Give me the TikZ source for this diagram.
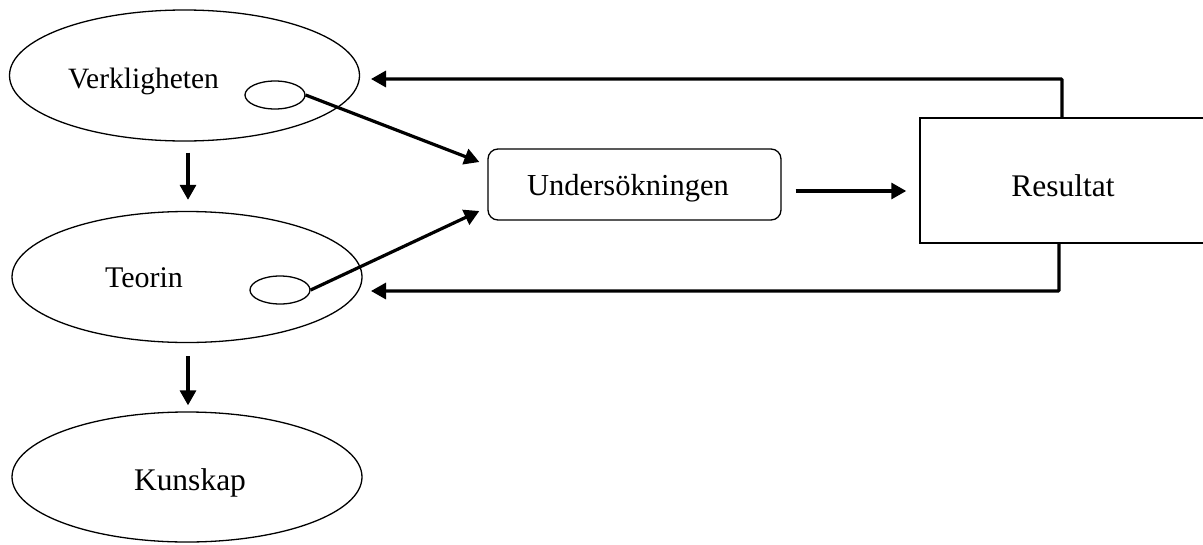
\documentclass[tikz,border=0pt]{standalone}
\usepackage{fontspec}
\setmainfont{Liberation Serif}
\usetikzlibrary{shapes.geometric,arrows.meta}
\begin{document}
\begin{tikzpicture}[x=1pt,y=-1pt,
  big/.style={draw,ellipse,line width=1.3pt,minimum width=350pt,minimum height=131pt,inner sep=0pt},
  small/.style={draw,ellipse,line width=1.3pt,minimum width=60pt,minimum height=28pt,inner sep=0pt},
  lbl/.style={inner sep=0pt,font=\fontsize{30}{36}\selectfont},
  lblb/.style={inner sep=0pt,font=\fontsize{31.5}{38}\selectfont},
  arr/.style={line width=3.2pt,-{Triangle[length=15pt 0,width=16pt 0]}}]
\useasboundingbox (0,0) rectangle (1203,544);
\node[big] (V) at (184.5,75.5) {};
\node[big] (T) at (187,277) {};
\node[big,minimum height=130pt] (K) at (187,477) {};
\node[lbl,font=\fontsize{29.5}{35}\selectfont] (Vt) at (143.5,81) {Verkligheten};
\node[lbl] (Tt) at (144,278) {Teorin};
\node[lblb] (Kt) at (190,483) {Kunskap};
\node[small] (sV) at (275,95) {};
\node[small] (sT) at (280,290) {};
\node[draw,rounded corners=10pt,line width=1.3pt,minimum width=293pt,minimum height=71pt,inner sep=0pt] (U) at (634.5,184.5) {};
\node[lbl,font=\fontsize{30.5}{36}\selectfont] (Ut) at (628,188) {Undersökningen};
\node[draw,line width=1.5pt,minimum width=284pt,minimum height=125pt,inner sep=0pt] (R) at (1062,180.5) {};
\node[lblb] (Rt) at (1063,186) {Resultat};
\coordinate (fbTop) at (371,79);
\coordinate (fbBot) at (371,291);
\coordinate (uE) at ([yshift=-6.5pt]U.east);
\draw[arr] ([yshift=-11pt,xshift=3.5pt]V.south) -- ([yshift=11pt,xshift=1pt]T.north);
\draw[arr] ([yshift=-13pt,xshift=1pt]T.south) -- ([yshift=6pt,xshift=1pt]K.north);
\draw[arr] (sV.east) -- ([xshift=-8pt,yshift=22.5pt]U.west);
\draw[arr] (sT.east) -- ([xshift=-8pt,yshift=-26.5pt]U.west);
\draw[arr,shorten <=14pt,shorten >=13pt] (uE) -- (R.west |- uE);
\draw[arr,rounded corners=1pt] (R.north) |- (fbTop);
\draw[arr,rounded corners=1pt] ([xshift=-3pt]R.south) |- (fbBot);
\end{tikzpicture}
\end{document}
